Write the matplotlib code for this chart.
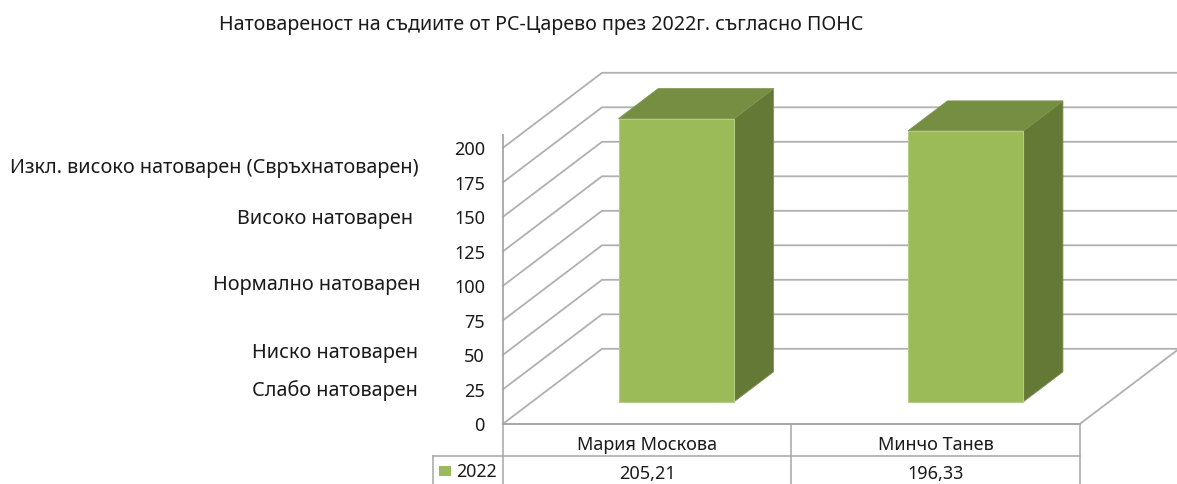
import matplotlib
matplotlib.use('Agg')
import matplotlib.pyplot as plt
from matplotlib.patches import Rectangle

plt.rcParams['font.family'] = ['Noto Sans', 'DejaVu Sans']

title = 'Натовареност на съдиите от РС-Царево през 2022г. съгласно ПОНС'
judges = ['Мария Москова', 'Минчо Танев']
values = [205.21, 196.33]
value_labels = ['205,21', '196,33']
series_name = '2022'
y_ticks = [0, 25, 50, 75, 100, 125, 150, 175, 200]
load_labels = ['Изкл. високо натоварен (Свръхнатоварен)', 'Високо натоварен',
               'Нормално натоварен', 'Ниско натоварен', 'Слабо натоварен']

# pixel layout of the picture
W, H = 1177, 485
X0, Y0 = 503, 424
CAT_W = 288.5
PX_PER_UNIT = 1.38
DEPTH_X, DEPTH_Y = 99, 75


def cx(px):
    return (px - X0) / CAT_W


def vy(py):
    return (Y0 - py) / PX_PER_UNIT


# fake 3d: shift a (category, value) point backwards by depth (0 front, 1 back)
def proj(cat, val, depth):
    return cat + depth * DEPTH_X / CAT_W, val + depth * DEPTH_Y / PX_PER_UNIT


def tx(x, py):
    return cx(x), vy(py)


fig = plt.figure(figsize=(W / 100, H / 100), dpi=100)
ax = fig.add_axes([0, 0, 1, 1])
ax.set_xlim(cx(0), cx(W))
ax.set_ylim(vy(H - 0.8), vy(-0.8))
ax.axis('off')

grid_col = '#B0B0B0'
line_col = '#A6A6A6'
text_col = '#1a1a1a'

# walls
for t in y_ticks:
    pts = [proj(0, t, 0), proj(0, t, 1), proj(2, t, 1)]
    ax.plot([p[0] for p in pts], [p[1] for p in pts], color=grid_col, lw=1.3, zorder=1)
floor = [proj(2, 0, 0), proj(2, 0, 1)]
ax.plot([p[0] for p in floor], [p[1] for p in floor], color=grid_col, lw=1.3, zorder=1)
ax.plot([0, 0], [0, 209], color=line_col, lw=1.3, zorder=1)

# bars
bar_w = 0.4
d_front, d_back = 0.293, 0.693
bar_pos = [0.5, 1.503]
for pos, v in zip(bar_pos, values):
    left = pos - bar_w / 2
    right = left + bar_w
    front = [proj(left, 0, d_front), proj(right, 0, d_front),
             proj(right, v, d_front), proj(left, v, d_front)]
    top = [proj(left, v, d_front), proj(right, v, d_front),
           proj(right, v, d_back), proj(left, v, d_back)]
    side = [proj(right, 0, d_front), proj(right, 0, d_back),
            proj(right, v, d_back), proj(right, v, d_front)]
    ax.fill(*zip(*side), facecolor='#657937', edgecolor='#7D9350', lw=0.6, zorder=3)
    ax.fill(*zip(*top), facecolor='#768E41', edgecolor='#7D9350', lw=0.6, zorder=3)
    ax.fill(*zip(*front), facecolor='#9BBB59', edgecolor='#B4CD86', lw=0.8, zorder=4)

# data table under the chart
ax.plot([cx(X0), cx(1080)], [vy(424), vy(424)], color=line_col, lw=1.4, zorder=2)
ax.plot([cx(433), cx(1080)], [vy(456), vy(456)], color=line_col, lw=1.1, zorder=2)
for px in [503, 791, 1080]:
    ax.plot([cx(px), cx(px)], [vy(424), vy(H)], color=line_col, lw=1.1, zorder=2)
ax.plot([cx(433), cx(433)], [vy(456), vy(H)], color=line_col, lw=1.1, zorder=2)
ax.add_patch(Rectangle(tx(439, 476), cx(451) - cx(439), vy(466) - vy(476),
                       facecolor='#9BBB59', edgecolor='none', zorder=3))
ax.text(*tx(456, 471), series_name, fontsize=12.8, color=text_col, ha='left', va='center')
for i, (name, lab) in enumerate(zip(judges, value_labels)):
    ax.text(i + 0.5, vy(444), name, fontsize=13, color=text_col, ha='center', va='center')
    ax.text(i + 0.5, vy(473), lab, fontsize=13, color=text_col, ha='center', va='center')

# axis numbers
for t in y_ticks:
    ax.text(cx(485), t - 1.2, str(t), fontsize=13, color=text_col, ha='right', va='center')

# labels typed on the left of the axis
load_right = [419, 413, 421, 418, 418]
load_y = [167, 218, 284, 352, 390]
for lab, r, py in zip(load_labels, load_right, load_y):
    ax.text(*tx(r, py), lab, fontsize=14.3, color=text_col, ha='right', va='center')

ax.text(*tx(541, 24), title, fontsize=14.15, color=text_col, ha='center', va='center')

fig.savefig('out.png', dpi=100)
